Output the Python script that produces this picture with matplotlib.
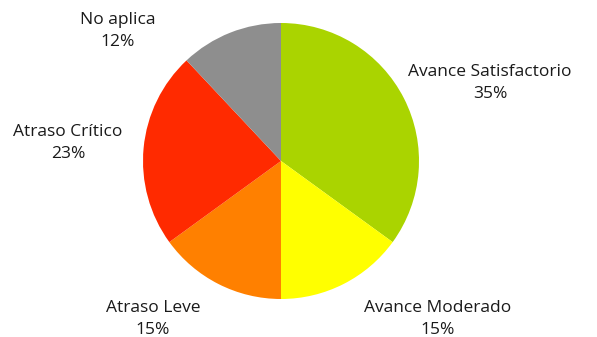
import matplotlib.pyplot as plt

categorias = ['Avance Satisfactorio', 'Avance Moderado', 'Atraso Leve', 'Atraso Crítico', 'No aplica']
porcentajes = [35, 15, 15, 23, 12]
colores = ['#AAD400', '#FFFF00', '#FF8000', '#FF2A00', '#8E8E8E']

# posiciones de las etiquetas en pixeles (centro del texto)
pos_etiquetas = [(490, 83), (438, 319), (153, 319), (68, 143), (118, 31)]

W, H = 597, 337
fig = plt.figure(figsize=(W / 100, H / 100), dpi=100)
ax = fig.add_axes([143 / W, 38 / H, 276 / W, 276 / H])
ax.pie(porcentajes, colors=colores, startangle=90, counterclock=False,
       wedgeprops={'linewidth': 0})
ax.set_xlim(-1, 1)
ax.set_ylim(-1, 1)
ax.set_aspect('equal')
ax.axis('off')

for cat, pct, (x, y) in zip(categorias, porcentajes, pos_etiquetas):
    fig.text(x / W, 1 - y / H, f'{cat}\n{pct}%', ha='center', va='center',
             fontsize=12.5, family='Open Sans', color='#1a1a1a', linespacing=1.45)

plt.savefig('out.png', dpi=100)
